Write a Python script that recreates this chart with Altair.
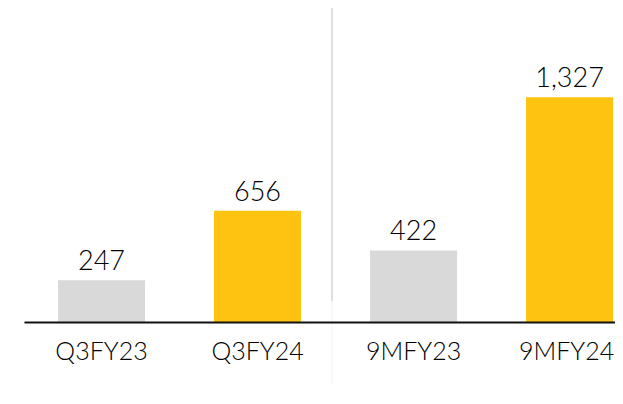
import altair as alt
import pandas as pd

categories = ["Q3FY23", "Q3FY24", "9MFY23", "9MFY24"]
values = [247, 656, 422, 1327]
groups = ["prev", "curr", "prev", "curr"]

df = pd.DataFrame({"cat": categories, "val": values, "grp": groups})

FONT = "Lato"

xscale = alt.Scale(domain=categories, paddingInner=0.442, paddingOuter=0.115, align=0.947)
yscale = alt.Scale(domain=[0, 1853], nice=False, zero=True)

x = alt.X("cat:N", scale=xscale, sort=categories, title=None,
          axis=alt.Axis(labelFont=FONT, labelFontSize=25, labelFontWeight=300, labelColor="#000000",
                        labelAngle=0, labelBaseline="alphabetic", labelPadding=37,
                        labelOffset=alt.expr("datum.value == '9MFY24' ? -3 : 0"),
                        ticks=False, tickSize=0, domainColor="#111111", domainWidth=2,
                        grid=False, zindex=1, labelLimit=0))
y = alt.Y("val:Q", scale=yscale, axis=None)

sep_df = pd.DataFrame({"k": [0]})
sep = alt.Chart(sep_df).mark_rule(color="#d4d4d4", strokeWidth=1.5).encode(
    x=alt.value(308), y=alt.value(0), y2=alt.value(293))
sep_faint = alt.Chart(sep_df).mark_rule(color="#f3f3f3", strokeWidth=1).encode(
    x=alt.value(308), y=alt.value(293), y2=alt.value(376))

bars = alt.Chart(df).mark_bar().encode(
    x=x, y=y,
    color=alt.Color("grp:N", scale=alt.Scale(domain=["prev", "curr"], range=["#d9d9d9", "#fec311"]), legend=None),
)

labels = alt.Chart(df).mark_text(font=FONT, fontSize=27, fontWeight=300, color="#000000",
                                 baseline="alphabetic", dy=-10).encode(
    x=alt.X("cat:N", scale=xscale, sort=categories),
    y=y,
    text=alt.Text("val:Q", format=","),
)

chart = alt.layer(sep, sep_faint, bars, labels).properties(
    width=591, height=314,
    autosize=alt.AutoSizeParams(type="none"),
    padding={"left": 16, "top": 0, "right": 0, "bottom": 64},
    background="white",
).configure_view(stroke=None)

chart.save("out.html", embed_options={"renderer": "svg", "actions": False})
